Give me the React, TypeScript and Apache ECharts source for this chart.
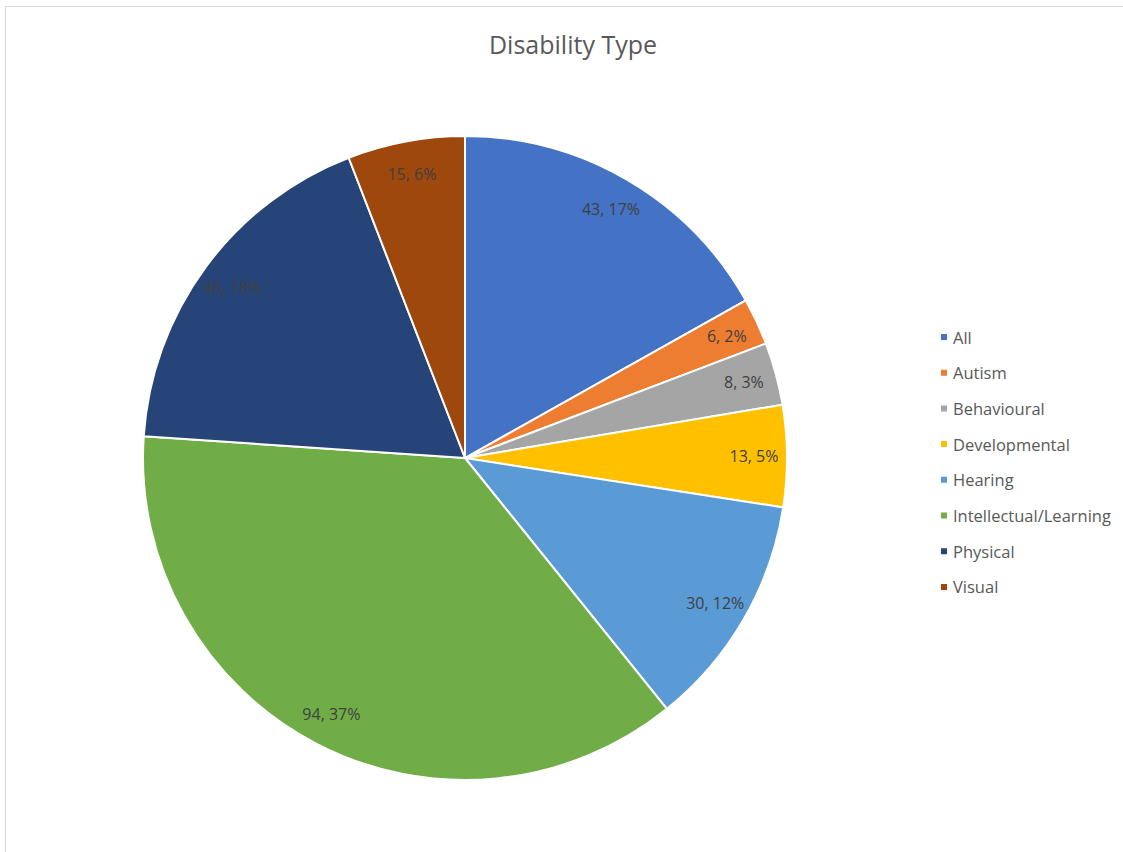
import React, { useEffect, useRef } from "react";
import * as echarts from "echarts";

const categories = ["All", "Autism", "Behavioural", "Developmental", "Hearing", "Intellectual/Learning", "Physical", "Visual"];
const values = [43, 6, 8, 13, 30, 94, 46, 15];
const colors = ["#4472C4", "#ED7D31", "#A5A5A5", "#FFC000", "#5B9BD5", "#70AD47", "#264478", "#9E480E"];
const titleText = "Disability Type";

export default function App() {
  const ref = useRef<HTMLDivElement>(null);
  useEffect(() => {
    if (!ref.current) return;
    const chart = echarts.init(ref.current, null, { renderer: "svg" });
    const total = values.reduce((a, b) => a + b, 0);
    const data = categories.map((name, i) => ({ name, value: values[i], itemStyle: { color: colors[i] } }));
    chart.setOption({
      animation: false,
      backgroundColor: "#ffffff",
      title: {
        text: titleText,
        left: 568,
        top: 26,
        textAlign: "center",
        textStyle: { fontFamily: "Open Sans", fontSize: 25, fontWeight: "normal", color: "#595959" },
      },
      legend: {
        orient: "vertical",
        left: 934,
        top: 322,
        icon: "rect",
        itemWidth: 8,
        itemHeight: 8,
        itemGap: 15.7,
        data: categories,
        textStyle: { fontFamily: "Open Sans", fontSize: 16.5, color: "#595959", lineHeight: 20 },
      },
      series: [
        {
          type: "pie",
          center: [465, 458],
          radius: [0, 322],
          startAngle: 90,
          clockwise: true,
          data,
          label: { show: false },
          labelLine: { show: false },
          itemStyle: { borderColor: "#ffffff", borderWidth: 2 },
          silent: true,
        },
        {
          type: "pie",
          center: [465, 458],
          radius: [250, 322],
          startAngle: 90,
          clockwise: true,
          data: categories.map((name, i) => ({ name, value: values[i] })),
          itemStyle: { color: "rgba(0,0,0,0)", borderWidth: 0 },
          label: {
            show: true,
            position: "inside",
            fontFamily: "Open Sans",
            fontSize: 16,
            color: "#404040",
            formatter: (p: any) => `${p.value}, ${Math.round((p.value / total) * 100)}%`,
          },
          labelLine: { show: false },
          emphasis: { disabled: true },
          silent: true,
        },
      ],
    });
    return () => chart.dispose();
  }, []);
  return (
    <div style={{ position: "fixed", left: 0, top: 0, width: 1123, height: 852, background: "#fff" }}>
      <div ref={ref} style={{ position: "absolute", left: 0, top: 0, width: 1123, height: 852 }} />
      <div style={{ position: "absolute", left: 5, top: 6, width: 1130, height: 860, borderTop: "1px solid #d9d9d9", borderLeft: "1px solid #d9d9d9", pointerEvents: "none" }} />
    </div>
  );
}
